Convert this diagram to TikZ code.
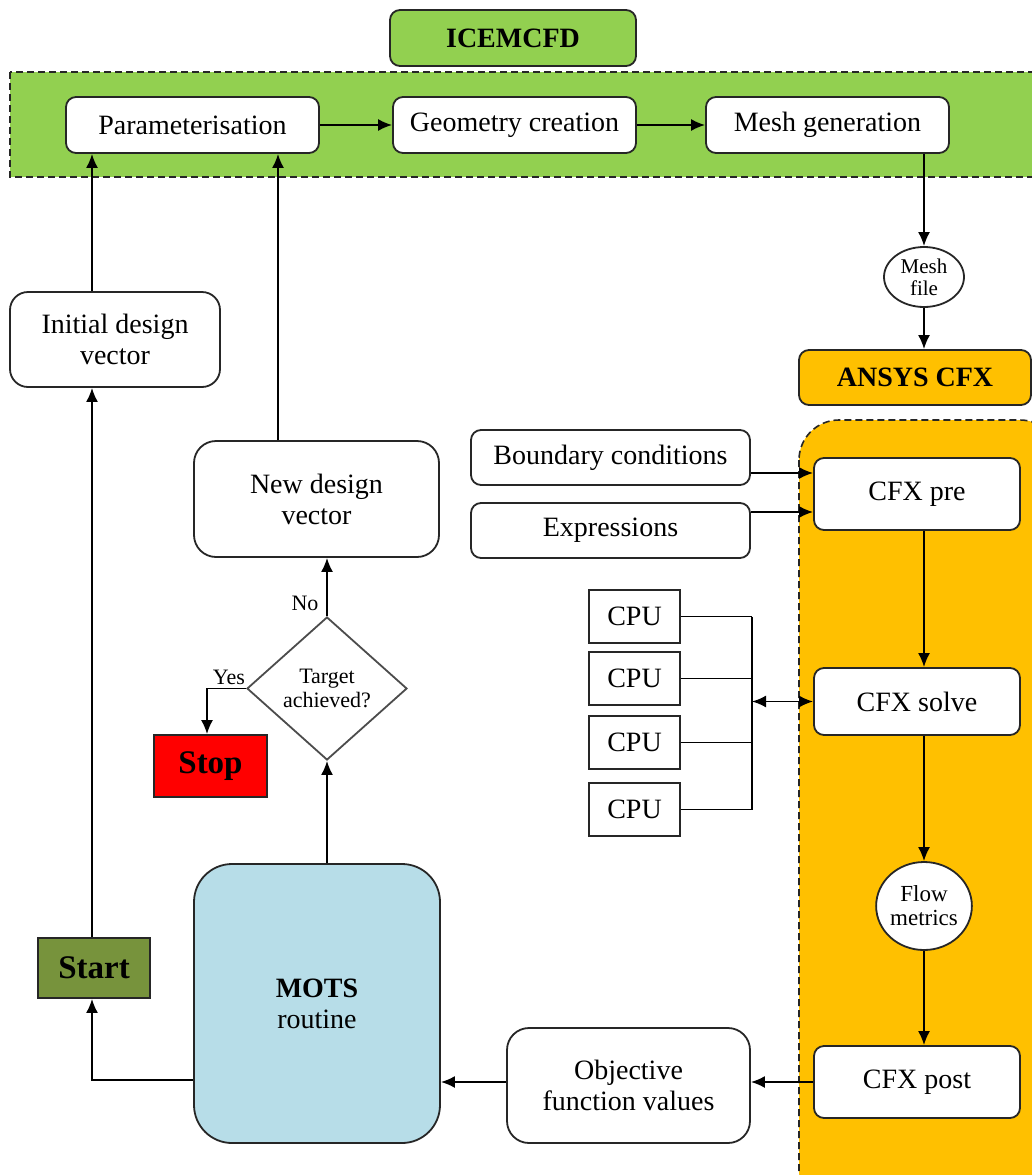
\documentclass[tikz,border=0pt]{standalone}
\usepackage{fontspec}
\setmainfont{Liberation Serif}
\usetikzlibrary{arrows.meta,shapes.geometric,calc}
\definecolor{icegreen}{HTML}{92D050}
\definecolor{cfxorange}{HTML}{FFC000}
\definecolor{motsblue}{HTML}{B7DDE8}
\definecolor{startgreen}{HTML}{77933C}
\definecolor{stopred}{HTML}{FF0000}
\newcommand{\fsA}{\fontsize{28}{31}\selectfont}
\newcommand{\fsB}{\fontsize{22}{24}\selectfont}
\newcommand{\fsC}{\fontsize{21}{22}\selectfont}
\newcommand{\fsD}{\fontsize{23}{24}\selectfont}
\tikzset{
  box/.style={draw=black!85, line width=1.8pt, rounded corners=10pt, fill=white,
    inner sep=0pt, align=center, font=\fsA},
  sqbox/.style={draw=black!85, line width=1.8pt, fill=white, inner sep=0pt, align=center, font=\fsA},
  oval/.style={draw=black!85, line width=1.8pt, ellipse, fill=white, inner sep=0pt, align=center},
  conn/.style={line width=1.8pt, -{Latex[length=14pt,width=12pt]}},
  plain/.style={line width=1.8pt},
  region/.style={draw=black!85, line width=1.6pt, dash pattern=on 7pt off 4pt},
  lbl/.style={font=\fsB, inner sep=0pt}
}
\begin{document}
\begin{tikzpicture}[x=1pt,y=-1pt]
\useasboundingbox (0,0) rectangle (1032,1175);
% regions
\draw[region, fill=icegreen] (10,72) rectangle (1050,177);
\draw[region, fill=cfxorange, rounded corners=40pt] (799,420) rectangle (1060,1210);
% ICEMCFD group
\node[box, fill=icegreen, minimum width=246pt, minimum height=56pt, font=\fsA\bfseries] (icem) at (513,38) {ICEMCFD};
\node[box, minimum width=253pt, minimum height=56pt] (param) at (192.5,125) {Parameterisation};
\node[box, minimum width=243pt, minimum height=56pt] (geom) at (514.5,125) {Geometry creation};
\node[box, minimum width=243pt, minimum height=56pt] (mesh) at (827.5,125) {Mesh generation};
\node[oval, minimum width=80pt, minimum height=60pt, font=\fsC] (meshfile) at (924,277) {Mesh\\file};
\node[box, fill=cfxorange, minimum width=232pt, minimum height=55pt, font=\fsA\bfseries] (ansys) at (915,377.5) {ANSYS CFX};
% CFX group
\node[box, minimum width=279pt, minimum height=55pt] (bc) at (610.5,457.5) {Boundary conditions};
\node[box, minimum width=279pt, minimum height=55pt] (expr) at (610.5,530.5) {Expressions};
\node[box, minimum width=206pt, minimum height=72pt] (pre) at (917,494) {CFX pre};
\node[box, minimum width=206pt, minimum height=67pt] (solve) at (917,701.5) {CFX solve};
\node[sqbox, minimum width=91pt, minimum height=53pt] (cpu1) at (634.5,616.5) {CPU};
\node[sqbox, minimum width=91pt, minimum height=53pt] (cpu2) at (634.5,678.5) {CPU};
\node[sqbox, minimum width=91pt, minimum height=53pt] (cpu3) at (634.5,742.5) {CPU};
\node[sqbox, minimum width=91pt, minimum height=53pt] (cpu4) at (634.5,809.5) {CPU};
\coordinate (bus) at (752,701.5);
\node[oval, minimum width=94pt, minimum height=88pt, font=\fsD] (flow) at (924,906) {Flow\\metrics};
\node[box, minimum width=206pt, minimum height=72pt] (post) at (917,1082) {CFX post};
\node[box, minimum width=243pt, minimum height=115pt, rounded corners=22pt] (obj) at (628.5,1085.5) {Objective\\function values};
% optimiser side
\node[box, fill=motsblue, minimum width=246pt, minimum height=279pt, rounded corners=38pt] (mots) at (317,1003.5) {\textbf{MOTS}\\routine};
\node[sqbox, fill=startgreen, minimum width=112pt, minimum height=60pt, font=\fontsize{33}{36}\selectfont\bfseries] (start) at (94,968) {Start};
\node[box, minimum width=210pt, minimum height=95pt, rounded corners=18pt] (init) at (115,339.5) {Initial design\\vector};
\node[box, minimum width=245pt, minimum height=116pt, rounded corners=22pt] (newd) at (316.5,499) {New design\\vector};
\node[draw=black!70, line width=1.8pt, diamond, fill=white, inner sep=0pt, minimum width=160pt, minimum height=143pt, align=center, font=\fsB] (dia) at (327,688.5) {Target\\achieved?};
\node[sqbox, fill=stopred, minimum width=113pt, minimum height=62pt, font=\fontsize{33}{36}\selectfont\bfseries] (stop) at (210.5,766) {Stop};
% helper coordinates
\coordinate (bcout) at ([yshift=-15.5pt]bc.east);
\coordinate (exout) at ([yshift=18.5pt]expr.east);
\coordinate (motsout) at ([yshift=-76.5pt]mots.west);
\coordinate (startin) at ([xshift=-2pt]start.south);
\coordinate (startout) at ([xshift=-2pt]start.north);
\coordinate (newout) at ([xshift=-38.5pt]newd.north);
\coordinate (stopin) at ([xshift=-3.5pt]stop.north);
% connectors: ICEMCFD
\draw[conn] (param.east) -- (geom.west);
\draw[conn] (geom.east) -- (mesh.west);
\draw[conn] (meshfile.north |- mesh.south) -- (meshfile.north);
\draw[conn] (meshfile.south) -- (meshfile.south |- ansys.north);
% CFX
\draw[conn] (bcout) -- (pre.west |- bcout);
\draw[conn] (exout) -- (pre.west |- exout);
\draw[conn] (pre.south -| flow) -- (solve.north -| flow);
\draw[plain] (cpu1.east) -- (cpu1.east -| bus);
\draw[plain] (cpu2.east) -- (cpu2.east -| bus);
\draw[plain] (cpu3.east) -- (cpu3.east -| bus);
\draw[plain] (cpu4.east) -- (cpu4.east -| bus);
\draw[plain] (cpu1.east -| bus) -- (cpu4.east -| bus);
\draw[line width=1.8pt, {Latex[length=14pt,width=12pt]}-{Latex[length=14pt,width=12pt]}] (bus) -- (bus -| solve.west);
\draw[conn] (solve.south -| flow) -- (flow.north);
\draw[conn] (flow.south) -- (flow.south |- post.north);
\draw[conn] (post.west) -- (obj.east |- post.west);
\draw[conn] (obj.west |- post.west) -- (mots.east |- post.west);
% optimiser loop
\draw[conn] (motsout) -| (startin);
\draw[conn] (startout) -- (startout |- init.south);
\draw[conn] (startout |- init.north) -- (startout |- param.south);
\draw[conn] (mots.north -| dia) -- (dia.south);
\draw[conn] (dia.north) -- (dia.north |- newd.south);
\draw[conn] (newout) -- (newout |- param.south);
\draw[conn] (dia.west) -| (stopin);
\node[lbl] (nolbl) at (305,603) {No};
\node[lbl] (yeslbl) at (229,677) {Yes};
\end{tikzpicture}
\end{document}
